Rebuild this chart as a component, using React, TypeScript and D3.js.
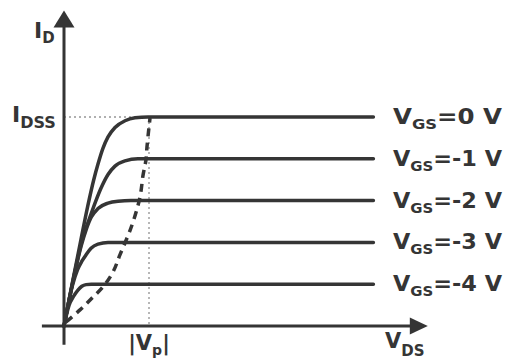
import React from "react";
import * as d3 from "d3";

const W = 509;
const H = 360;

// Gate-source voltage labels and saturation currents (arbitrary mA units, IDSS = 10)
const vgsValues = ["0", "-1", "-2", "-3", "-4"];
const plateauCurrents = [10, 8, 6, 4, 2];
const vpValue = 5; // |Vp| position on VDS axis
const idssValue = 10;

// Curves: [VDS, ID]
const curveVgs0 = [[0, 0], [0.5, 2.1], [1.0, 4.15], [1.4, 5.75], [1.75, 7.0], [2.0, 7.75], [2.29, 8.5], [2.59, 9.05], [3.0, 9.5], [3.59, 9.82], [4.18, 9.96], [4.94, 10], [18.2, 10]];
const curveVgs1 = [[0, 0], [0.6, 2.45], [1.1, 4.2], [1.5, 5.15], [1.88, 6.0], [2.18, 6.6], [2.59, 7.25], [3.0, 7.65], [3.59, 7.9], [4.35, 8.0], [18.2, 8]];
const curveVgs2 = [[0, 0], [0.6, 2.4], [1.0, 3.8], [1.3, 4.6], [1.6, 5.2], [2.0, 5.62], [2.59, 5.88], [3.18, 5.97], [3.94, 6.0], [18.2, 6]];
const curveVgs3 = [[0, 0], [0.5, 1.95], [0.8, 2.7], [1.05, 3.1], [1.29, 3.4], [1.59, 3.72], [2.0, 3.92], [2.59, 4.0], [18.2, 4]];
const curveVgs4 = [[0, 0], [0.3, 1.0], [0.55, 1.4], [0.82, 1.72], [1.05, 1.9], [1.3, 1.98], [1.6, 2.0], [18.2, 2]];
const pinchOffLocus = [[0.12, 0.19], [0.94, 0.77], [1.65, 1.34], [2.29, 1.87], [2.88, 2.58], [3.29, 3.4], [4.0, 4.83], [4.47, 6.17], [4.65, 7.22], [4.82, 7.94], [4.88, 8.56], [5.0, 9.52], [5.06, 9.95]];

const curves = [curveVgs0, curveVgs1, curveVgs2, curveVgs3, curveVgs4];

// axis extents in data units
const xAxisExtent = [-1.3, 21.4];
const yAxisExtent = [-0.9, 15.1];

const INK = "#353535";
const FONT = "'DejaVu Sans', Verdana, sans-serif";

export default function App() {
  const x = d3.scaleLinear().domain([0, 5]).range([64, 149]);
  const y = d3.scaleLinear().domain([0, 10]).range([326, 117]);

  const line = d3
    .line<number[]>()
    .x((d) => x(d[0]))
    .y((d) => y(d[1]))
    .curve(d3.curveMonotoneX);

  const dashLine = d3
    .line<number[]>()
    .x((d) => x(d[0]))
    .y((d) => y(d[1]))
    .curve(d3.curveCatmullRom.alpha(0.5));

  const x0 = x(0);
  const y0 = y(0);
  const yTop = y(yAxisExtent[1]);
  const xRight = x(xAxisExtent[1]);

  return (
    <svg
      width={W}
      height={H}
      style={{ position: "absolute", left: 0, top: 0, background: "#fff" }}
      fontFamily={FONT}
    >
      <rect width={W} height={H} fill="#fff" />
      {/* guides */}
      <line x1={x0} x2={x(vpValue)} y1={y(idssValue)} y2={y(idssValue)} stroke="#b0b0b0" strokeWidth={1.8} strokeDasharray="2 3" />
      <line x1={x(vpValue)} x2={x(vpValue)} y1={y(idssValue)} y2={y0} stroke="#b0b0b0" strokeWidth={1.8} strokeDasharray="2 3" />

      {/* axes */}
      <line x1={x0} x2={x0} y1={y(yAxisExtent[0])} y2={yTop + 15} stroke={INK} strokeWidth={3} />
      <path d={`M${x0},${yTop} L${x0 - 10.5},${yTop + 17} L${x0 + 10.5},${yTop + 17} Z`} fill={INK} />
      <line x1={x(xAxisExtent[0])} x2={xRight - 15} y1={y0} y2={y0} stroke={INK} strokeWidth={3} />
      <path d={`M${xRight},${y0} L${xRight - 18},${y0 - 8.5} L${xRight - 18},${y0 + 8.5} Z`} fill={INK} />

      {/* characteristic curves */}
      {curves.map((c, i) => (
        <path key={i} d={line(c) || ""} fill="none" stroke={INK} strokeWidth={3.5} strokeLinecap="round" strokeLinejoin="round" />
      ))}

      {/* pinch-off locus */}
      <path d={dashLine(pinchOffLocus) || ""} fill="none" stroke={INK} strokeWidth={3.5} strokeDasharray="8 6" />

      {/* curve labels */}
      {vgsValues.map((v, i) => (
        <text
          key={v}
          x={393}
          y={y(plateauCurrents[i]) + 7}
          fontSize={21}
          fontWeight="bold"
          fill={INK}
          textLength={109}
          lengthAdjust="spacingAndGlyphs"
        >
          V
          <tspan fontSize={14} dy={5}>GS</tspan>
          <tspan dy={-5}>{`=${v} V`}</tspan>
        </text>
      ))}

      {/* axis labels */}
      <text x={34} y={38} fontSize={22} fontWeight="bold" fill={INK}>
        I<tspan fontSize={15} dy={5}>D</tspan>
      </text>
      <text x={12} y={122} fontSize={22} fontWeight="bold" fill={INK}>
        I<tspan fontSize={16} dy={6}>DSS</tspan>
      </text>
      <text x={x(vpValue)} y={350} fontSize={21} fontWeight="bold" fill={INK} textAnchor="middle">
        |V<tspan fontSize={14} dy={5}>p</tspan>
        <tspan dy={-5}>|</tspan>
      </text>
      <text x={385} y={348} fontSize={21} fontWeight="bold" fill={INK}>
        V<tspan fontSize={15} dy={8}>DS</tspan>
      </text>
    </svg>
  );
}
